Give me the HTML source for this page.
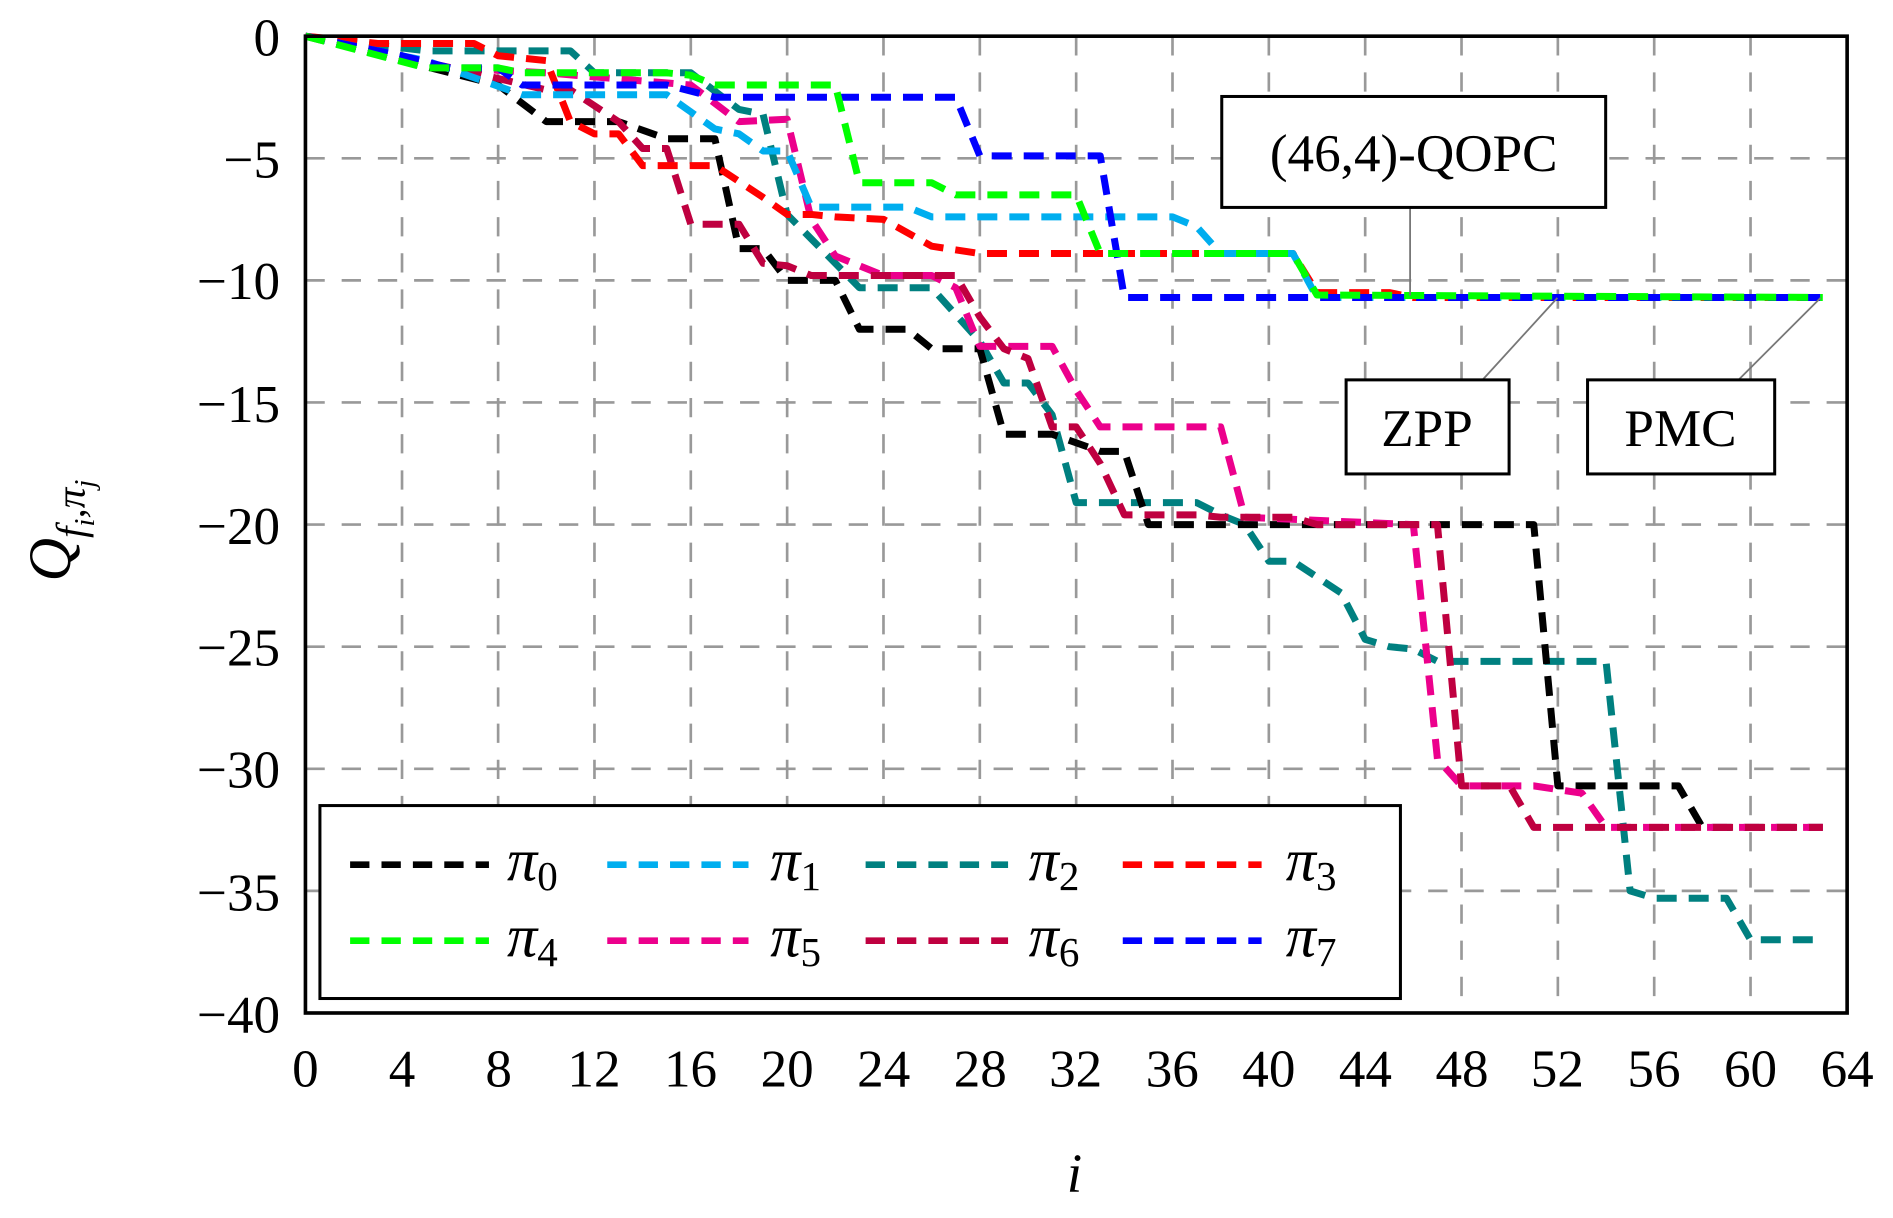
<!DOCTYPE html>
<html><head><meta charset="utf-8"><style>
html,body{margin:0;padding:0;background:#fff}
svg{display:block}
text{font-family:"Liberation Serif",serif;fill:#000}
</style></head><body>
<svg width="1893" height="1218" viewBox="0 0 1568 1010" preserveAspectRatio="none" xmlns="http://www.w3.org/2000/svg">
<g stroke="#999" stroke-width="2.2" stroke-dasharray="16 14" fill="none">
<path d="M333 30V840M412.6 30V840M492.4 30V840M572.2 30V840M652 30V840M731.8 30V840M811.6 30V840M891.4 30V840M971.2 30V840M1051 30V840M1130.8 30V840M1210.6 30V840M1290.4 30V840M1370.2 30V840M1450 30V840"/>
<path d="M253 131.25H1530M253 232.5H1530M253 333.75H1530M253 435H1530M253 536.25H1530M253 637.5H1530M253 738.75H1530"/>
</g>
<g transform="translate(253,30) scale(19.95,-20.25)" fill="none" stroke-linejoin="round">
<polyline vector-effect="non-scaling-stroke" stroke-width="7" stroke-dasharray="20 12" stroke="#008080" points="0,0 5,-0.6 11,-0.6 12,-1.5 16,-1.5 18,-3 19,-3.2 20,-7.3 21,-8.3 23,-10.3 26,-10.3 28,-12.5 29,-14.2 30,-14.2 31,-15.5 32,-19.1 37,-19.1 38,-19.6 39,-20 40,-21.5 41,-21.5 43,-22.8 44,-24.7 45,-25 46,-25.1 47,-25.6 54,-25.6 55,-35 56,-35.3 59,-35.3 60,-37 63,-37"/>
<polyline vector-effect="non-scaling-stroke" stroke-width="7" stroke-dasharray="20 12" stroke="#000000" points="0,0 8,-2 10,-3.5 13,-3.5 15,-4.2 17,-4.2 18,-8.7 19,-8.7 20,-10 22,-10 23,-12 25,-12 26,-12.8 28,-12.8 29,-16.3 31,-16.3 33,-17 34,-17 35,-20 51,-20 52,-30.7 57,-30.7 58,-32.4 63,-32.4"/>
<polyline vector-effect="non-scaling-stroke" stroke-width="7" stroke-dasharray="20 12" stroke="#ec008c" points="0,0 6,-1.3 10,-1.5 16,-2 18,-3.5 20,-3.4 21,-7.5 22,-9 24,-9.8 26,-9.8 27,-10.3 28,-12.7 31,-12.7 32,-14.5 33,-16 38,-16 39,-19.7 46,-20 47,-29.6 48,-30.7 51,-30.7 53,-31 54,-32.4 63,-32.4"/>
<polyline vector-effect="non-scaling-stroke" stroke-width="7" stroke-dasharray="20 12" stroke="#bf0040" points="0,0 7,-1.5 10,-2.2 11,-2.2 13,-3.5 14,-4.6 15,-4.6 16,-7.7 18,-7.7 19,-9.3 20,-9.4 21,-9.8 27,-9.8 28,-11.5 29,-12.8 30,-13.2 31,-16 32,-16 33,-17.5 34,-19.6 37,-19.6 38,-19.7 41,-19.7 42,-20 47,-20 48,-30.7 50,-30.7 51,-32.4 63,-32.4"/>
<polyline vector-effect="non-scaling-stroke" stroke-width="7" stroke-dasharray="20 12" stroke="#ff0000" points="0,0 3,-0.3 7,-0.3 8,-0.8 10,-1 11,-3.5 12,-4 13,-4 14,-5.3 17,-5.3 19,-6.6 20,-7.3 21,-7.3 22,-7.4 24,-7.5 26,-8.6 28,-8.9 41,-8.9 42,-10.5 45,-10.5 46,-10.7 63,-10.7"/>
<polyline vector-effect="non-scaling-stroke" stroke-width="7" stroke-dasharray="20 12" stroke="#00aeef" points="0,0 5,-1 9,-2.4 15,-2.4 17,-3.8 18,-4 19,-4.7 20,-4.7 21,-7 25,-7 26,-7.4 36,-7.4 37,-7.8 38,-8.9 41,-8.9 42,-10.7 63,-10.7"/>
<polyline vector-effect="non-scaling-stroke" stroke-width="7" stroke-dasharray="20 12" stroke="#0000ff" points="0,0 4,-0.8 6,-1.3 8,-1.3 9,-2 15,-2 17,-2.5 27,-2.5 28,-4.9 33,-4.9 34,-10.7 63,-10.7"/>
<polyline vector-effect="non-scaling-stroke" stroke-width="7" stroke-dasharray="20 12" stroke="#00ff00" points="0,0 5,-1.3 8,-1.3 9,-1.5 15,-1.5 16,-1.6 17,-2 22,-2 23,-6 26,-6 27,-6.5 32,-6.5 33,-8.9 41,-8.9 42,-10.6 63,-10.7"/>
</g>
<rect x="253" y="30" width="1277" height="810" fill="none" stroke="#000" stroke-width="3"/>
<g font-size="44" text-anchor="end">
<text x="232" y="46">0</text><text x="232" y="147">−5</text><text x="232" y="248">−10</text><text x="232" y="350">−15</text><text x="232" y="451">−20</text><text x="232" y="552">−25</text><text x="232" y="653">−30</text><text x="232" y="755">−35</text><text x="232" y="856">−40</text>
</g>
<g font-size="44" text-anchor="middle">
<text x="253" y="901">0</text><text x="333" y="901">4</text><text x="413" y="901">8</text><text x="492" y="901">12</text><text x="572" y="901">16</text><text x="652" y="901">20</text><text x="732" y="901">24</text><text x="812" y="901">28</text><text x="891" y="901">32</text><text x="971" y="901">36</text><text x="1051" y="901">40</text><text x="1131" y="901">44</text><text x="1211" y="901">48</text><text x="1290" y="901">52</text><text x="1370" y="901">56</text><text x="1450" y="901">60</text><text x="1530" y="901">64</text>
</g>
<text x="890" y="988" font-size="46" font-style="italic" text-anchor="middle">i</text>
<text transform="translate(58,440) rotate(-90)" font-size="50" font-style="italic" text-anchor="middle">Q<tspan font-size="34" dy="12">f</tspan><tspan font-size="24" dy="8">i</tspan><tspan font-size="34" dy="-8">,π</tspan><tspan font-size="24" dy="8">j</tspan></text>
<g stroke="#777" stroke-width="1.5"><path d="M1168 172V245M1228 315L1290 247M1440 315L1508 247"/></g>
<g fill="#fff" stroke="#000" stroke-width="2.5">
<rect x="1012" y="80" width="318" height="92"/><rect x="1115" y="315" width="135" height="78"/><rect x="1315" y="315" width="155" height="78"/><rect x="265" y="668" width="895" height="160"/>
</g>
<g font-size="44" text-anchor="middle"><text x="1171" y="142">(46,4)-QOPC</text><text x="1182" y="370">ZPP</text><text x="1392" y="370">PMC</text></g>
<g stroke-width="5.5" stroke-dasharray="16 10">
<path d="M290 717H405" stroke="#000"/><path d="M503 717H620" stroke="#00aeef"/><path d="M717 717H835" stroke="#008080"/><path d="M930 717H1045" stroke="#ff0000"/>
<path d="M290 780H405" stroke="#00ff00"/><path d="M503 780H620" stroke="#ec008c"/><path d="M717 780H835" stroke="#bf0040"/><path d="M930 780H1045" stroke="#0000ff"/>
</g>
<g font-size="50" font-style="italic">
<text x="420" y="730">π<tspan font-size="34" dy="8" font-style="normal">0</tspan></text>
<text x="638" y="730">π<tspan font-size="34" dy="8" font-style="normal">1</tspan></text>
<text x="852" y="730">π<tspan font-size="34" dy="8" font-style="normal">2</tspan></text>
<text x="1065" y="730">π<tspan font-size="34" dy="8" font-style="normal">3</tspan></text>
<text x="420" y="793">π<tspan font-size="34" dy="8" font-style="normal">4</tspan></text>
<text x="638" y="793">π<tspan font-size="34" dy="8" font-style="normal">5</tspan></text>
<text x="852" y="793">π<tspan font-size="34" dy="8" font-style="normal">6</tspan></text>
<text x="1065" y="793">π<tspan font-size="34" dy="8" font-style="normal">7</tspan></text>
</g>
</svg>
</body></html>
